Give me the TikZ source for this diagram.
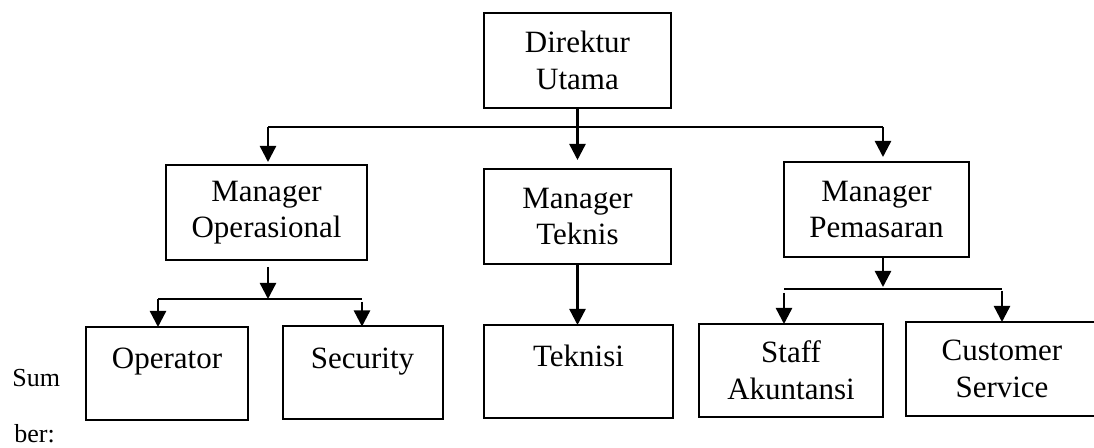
\documentclass[tikz,border=0pt]{standalone}
\usepackage{fontspec}
\setmainfont{Liberation Serif}
\usepackage{tikz}
\usetikzlibrary{arrows.meta}
\usetikzlibrary{calc}

\tikzset{
	jabatan/.style={draw, line width=1pt, inner sep=0pt, outer sep=0pt, align=center, font=\fontsize{15.5}{18.3}\selectfont},
	jabatansatu/.style={jabatan, text height=10pt, text depth=14.5pt},
	panah/.style={-{Triangle[length=8pt,width=8pt]}, line width=1.2pt},
	garis/.style={line width=0.8pt},
	catatan/.style={inner sep=0pt, font=\fontsize{13}{15}\selectfont}
}

\begin{document}
\begin{tikzpicture}[x=0.5pt,y=-0.5pt]
		\useasboundingbox (0,0) rectangle (1094,448);
		%\draw[gray] (0,0) rectangle (1094,448);
		\node[jabatan, minimum width=93.5pt, minimum height=47.5pt] (direktur) at (577.5,60.5) {Direktur\\Utama};
		\node[jabatan, minimum width=100.5pt, minimum height=47.5pt] (manop) at (266.5,212.5) {Manager\\Operasional};
		\node[jabatan, minimum width=93.5pt, minimum height=47.5pt] (mantek) at (577.5,216.5) {Manager\\Teknis};
		\node[jabatan, minimum width=92.5pt, minimum height=47.5pt] (manpem) at (876.5,209.5) {Manager\\Pemasaran};
		\node[jabatansatu, minimum width=81pt, minimum height=46.5pt] (operator) at (167,373.5) {Operator};
		\node[jabatansatu, minimum width=80pt, minimum height=46.5pt] (security) at (362.5,373) {Security};
		\node[jabatansatu, minimum width=94.5pt, minimum height=46.5pt] (teknisi) at (578.5,371.5) {Teknisi};
		\node[jabatan, minimum width=92pt, minimum height=46.5pt] (staff) at (791,370.5) {Staff\\Akuntansi};
		\node[jabatan, minimum width=96pt, minimum height=47pt] (cs) at (1002,369) {Customer\\Service};
		\node[catatan, anchor=base west] (sum) at (12,387) {Sum};
		\node[catatan, anchor=base west] (ber) at (14,443) {ber:};
		
		\coordinate (busL) at (268,127);
		\coordinate (busR) at (883,127);
		\draw[garis] (busL) -- (busR);
		\draw[panah, shorten >=4.5pt] (direktur.south) -- (mantek.north);
		\draw[panah, shorten >=1.5pt] (busL) -- (busL |- manop.north);
		\draw[panah, shorten >=2.5pt] (busR) -- (busR |- manpem.north);
		
		\coordinate (opbus) at (268,299);
		\coordinate (opL) at (158,299);
		\coordinate (opR) at (362,299);
		\draw[panah, shorten <=3.5pt] (manop.south -| opbus) -- (opbus);
		\draw[garis] (opL) -- (opR);
		\draw[panah] (opL) -- (opL |- operator.north);
		\draw[panah, shorten <=1.5pt] (opR) -- (opR |- security.north);
		
		\draw[panah] (mantek.south) -- (mantek.south |- teknisi.north);
		
		\coordinate (pmbus) at (883,289);
		\coordinate (pmL) at (784,289);
		\coordinate (pmR) at (1002,289);
		\draw[panah, shorten >=1pt] (manpem.south -| pmbus) -- (pmbus);
		\draw[garis] (pmL) -- (pmR);
		\draw[panah, shorten <=2pt] (pmL) -- (pmL |- staff.north);
		\draw[panah, shorten <=1pt] (pmR) -- (pmR |- cs.north);
\end{tikzpicture}
\end{document}
